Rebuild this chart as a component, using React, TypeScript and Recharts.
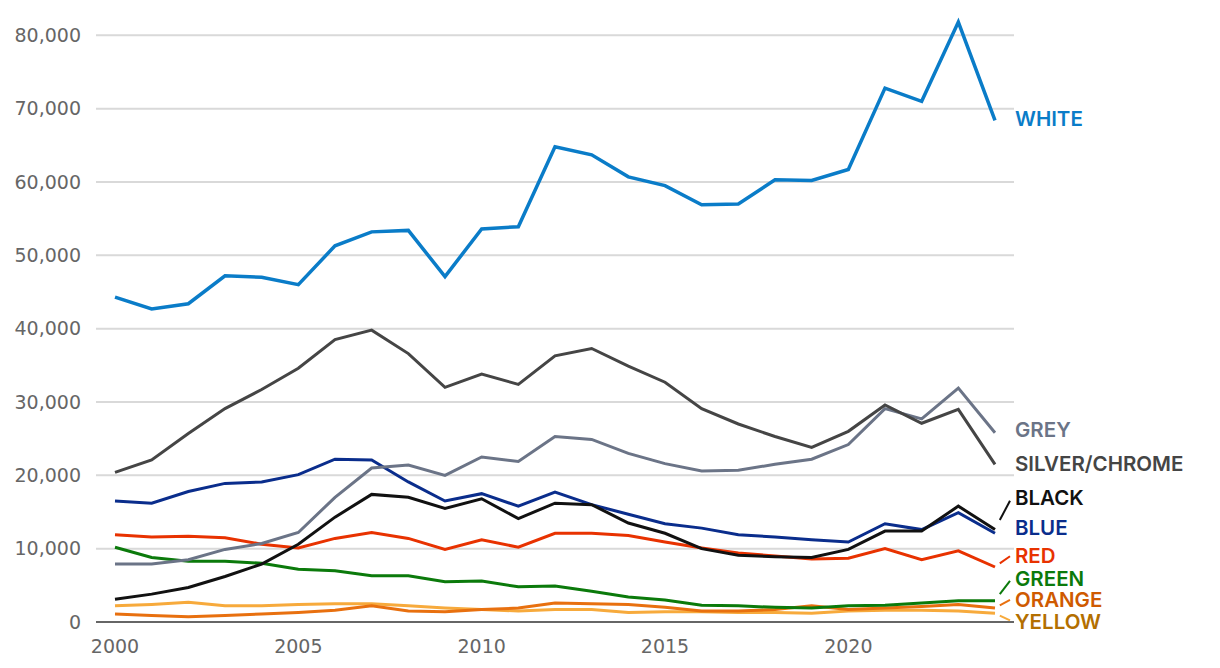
import React from "react";
import { LineChart, Line, XAxis, YAxis, ReferenceLine } from "recharts";

const years = [
  2000, 2001, 2002, 2003, 2004, 2005, 2006, 2007, 2008, 2009, 2010, 2011, 2012,
  2013, 2014, 2015, 2016, 2017, 2018, 2019, 2020, 2021, 2022, 2023, 2024,
];

const white = [
  44300, 42700, 43400, 47200, 47000, 46000, 51300, 53200, 53400, 47100, 53600, 53900, 64800,
  63700, 60700, 59500, 56900, 57000, 60300, 60200, 61700, 72800, 71000, 81800, 68400,
];
const grey = [
  7900, 7900, 8500, 9900, 10700, 12200, 17000, 21000, 21400, 20000, 22500, 21900, 25300,
  24900, 23000, 21600, 20600, 20700, 21500, 22200, 24200, 29100, 27700, 31900, 25800,
];
const silver = [
  20400, 22100, 25700, 29100, 31700, 34600, 38500, 39800, 36600, 32000, 33800, 32400, 36300,
  37300, 34900, 32700, 29100, 27000, 25300, 23800, 26000, 29600, 27100, 29000, 21500,
];
const black = [
  3100, 3800, 4700, 6200, 7900, 10600, 14300, 17400, 17000, 15500, 16800, 14100, 16200,
  16000, 13500, 12100, 10000, 9100, 8900, 8800, 9900, 12400, 12400, 15800, 12600,
];
const blue = [
  16500, 16200, 17800, 18900, 19100, 20100, 22200, 22100, 19100, 16500, 17500, 15800, 17700,
  16000, 14700, 13400, 12800, 11900, 11600, 11200, 10900, 13400, 12600, 14900, 12100,
];
const red = [
  11900, 11600, 11700, 11500, 10600, 10100, 11400, 12200, 11400, 9900, 11200, 10200, 12100,
  12100, 11800, 10900, 10100, 9400, 9000, 8600, 8700, 10000, 8500, 9700, 7500,
];
const green = [
  10200, 8800, 8300, 8300, 8000, 7200, 7000, 6300, 6300, 5500, 5600, 4800, 4900,
  4200, 3400, 3000, 2300, 2200, 2000, 1900, 2200, 2300, 2600, 2900, 2900,
];
const orange = [
  1100, 900, 700, 900, 1100, 1300, 1600, 2200, 1500, 1400, 1700, 1900, 2600,
  2500, 2400, 2000, 1500, 1500, 1700, 2200, 1700, 1900, 2100, 2400, 1900,
];
const yellow = [
  2200, 2400, 2700, 2200, 2200, 2400, 2500, 2500, 2200, 1900, 1700, 1500, 1700,
  1700, 1300, 1400, 1400, 1300, 1300, 1200, 1500, 1600, 1600, 1500, 1200,
];

const yTicks = [0, 10000, 20000, 30000, 40000, 50000, 60000, 70000, 80000];
const xTicks = [2000, 2005, 2010, 2015, 2020];

const data = years.map((year, i) => ({
  year,
  white: white[i],
  grey: grey[i],
  silver: silver[i],
  black: black[i],
  blue: blue[i],
  red: red[i],
  green: green[i],
  orange: orange[i],
  yellow: yellow[i],
}));

// drawing order: first is at the bottom
const series = [
  { key: "yellow", name: "YELLOW", stroke: "#f7aa3c", text: "#b36f00", dy: 8, leader: true },
  { key: "orange", name: "ORANGE", stroke: "#e8700f", text: "#cf5a00", dy: -9, leader: true },
  { key: "green", name: "GREEN", stroke: "#0b7a0b", text: "#0b7a0b", dy: -22, leader: true },
  { key: "red", name: "RED", stroke: "#e83200", text: "#e83200", dy: -12, leader: true },
  { key: "blue", name: "BLUE", stroke: "#0a2d8c", text: "#0a2d8c", dy: -6, leader: false },
  { key: "black", name: "BLACK", stroke: "#111111", text: "#111111", dy: -32, leader: true },
  { key: "grey", name: "GREY", stroke: "#6b7487", text: "#6b7487", dy: -3, leader: false },
  { key: "silver", name: "SILVER/CHROME", stroke: "#454545", text: "#454545", dy: -1, leader: false },
  { key: "white", name: "WHITE", stroke: "#0a7cc8", text: "#0a7cc8", dy: -2, leader: false },
];

const last = years.length - 1;
const fmt = (v: number) => v.toLocaleString("en-US");

function endLabel(s: (typeof series)[number]) {
  return (p: any) => {
    if (p.index !== last) return <g key={`l-${s.key}-${p.index}`} />;
    const x = Number(p.x);
    const y = Number(p.y);
    const tx = x + 20;
    const ty = y + s.dy;
    return (
      <g key={`l-${s.key}`}>
        {s.leader && (
          <line
            x1={x + 0.3 * (tx - 4 - x)}
            y1={y + 0.3 * (ty - y)}
            x2={tx - 5}
            y2={ty - 0.1 * (ty - y)}
            stroke={s.stroke}
            strokeWidth={2}
          />
        )}
        <text
          x={tx}
          y={ty}
          dominantBaseline="central"
          fill={s.text}
          fontFamily="Inter, 'Noto Sans', sans-serif"
          fontWeight={600}
          fontSize={20.5}
        >
          {s.name}
        </text>
      </g>
    );
  };
}

export default function App() {
  return (
    <div style={{ position: "absolute", left: 0, top: 0, width: 1220, height: 668, background: "#fff" }}>
      <LineChart
        width={1220}
        height={668}
        data={data}
        margin={{ top: 6, right: 206, bottom: 6, left: 0 }}
      >
        <XAxis
          dataKey="year"
          type="number"
          domain={[2000, 2024]}
          ticks={xTicks}
          padding={{ left: 19, right: 19 }}
          height={40}
          tickSize={0}
          tickMargin={18}
          axisLine={{ stroke: "#666", strokeWidth: 2 }}
          tickLine={false}
          tick={{ fill: "#666", fontSize: 19, fontFamily: "'DejaVu Sans', sans-serif" }}
        />
        <YAxis
          domain={[0, 84000]}
          ticks={yTicks}
          width={96}
          tickSize={0}
          tickMargin={15}
          axisLine={false}
          tickLine={false}
          tickFormatter={fmt}
          tick={{ fill: "#666", fontSize: 19, fontFamily: "'DejaVu Sans', sans-serif" }}
        />
        {yTicks.filter((t) => t > 0).map((t) => (
          <ReferenceLine key={t} y={t} stroke="#d9d9d9" strokeWidth={2} />
        ))}
        {series.map((s) => (
          <Line
            key={s.key}
            dataKey={s.key}
            name={s.name}
            type="linear"
            stroke={s.stroke}
            strokeWidth={s.key === "white" ? 3.5 : 3}
            dot={false}
            activeDot={false}
            isAnimationActive={false}
            label={endLabel(s)}
          />
        ))}
      </LineChart>
    </div>
  );
}
